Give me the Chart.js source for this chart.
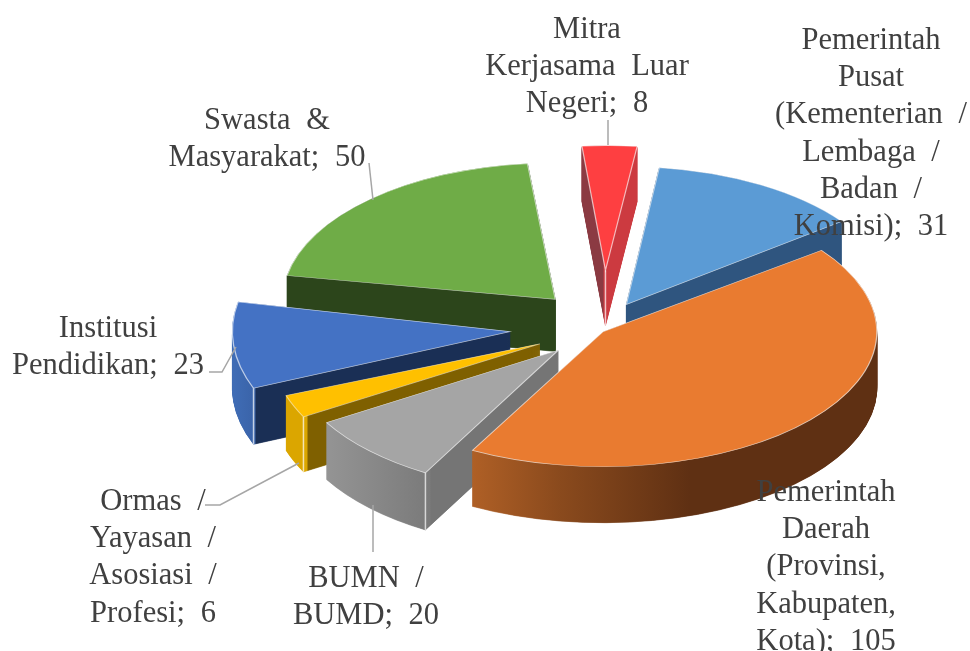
<!DOCTYPE html>
<html><head><meta charset="utf-8">
<style>html,body{margin:0;padding:0;background:#fff}canvas{display:block}</style>
<script src="https://cdn.jsdelivr.net/npm/chart.js@4"></script>
</head><body><canvas id="c" width="970" height="651"></canvas>
<script>
const categories = ["Pemerintah Pusat (Kementerian / Lembaga / Badan / Komisi)","Pemerintah Daerah (Provinsi, Kabupaten, Kota)","BUMN / BUMD","Ormas / Yayasan / Asosiasi / Profesi","Institusi Pendidikan","Swasta & Masyarakat","Mitra Kerjasama Luar Negeri"];
const values = [31,105,20,6,23,50,8];
const topColors = ["#5b9bd5","#e97b30","#a5a5a5","#ffc000","#4472c4","#6fac47","#fe3f41"];
const labelLines = [
 ["Pemerintah","Pusat","(Kementerian /","Lembaga /","Badan /","Komisi); 31"],
 ["Pemerintah","Daerah","(Provinsi,","Kabupaten,","Kota); 105"],
 ["BUMN /","BUMD; 20"],
 ["Ormas /","Yayasan /","Asosiasi /","Profesi; 6"],
 ["Institusi","Pendidikan; 23"],
 ["Swasta &","Masyarakat; 50"],
 ["Mitra","Kerjasama Luar","Negeri; 8"]
];
const labelAnchors = [[871,49],[826,501],[366,587],[153,510],[108,337],[267,129],[587,38]];
const leaders = [[[608,120],[608,145]],[[373,505],[373,552]],[[205,505],[220,505],[299,463]],[[209,372],[222,372],[236,347]],[[369,163],[373,200]]];
const explode = [52,7,55,64,88,68,105];
const sliceScaleX = [1.03,1.045,1.03,1.03,1.06,1.04,1.02];
const sliceScaleY = [0.94,0.92,0.96,1.03,1.01,0.93,0.85];
const sliceTurn = [-3,-3,-2,0,-2.5,-4,-3.2];
const depth = [50,56,57,55,56,52,55];
const borderAlpha = [0.65,0.65,0.65,0.5,0.65,0.65,0.65];
const drawOrder = [5,6,0,4,3,2,1];
const wallStops = [
 [[0,"#2f557f"],[1,"#2f557f"]],
 [[470,"#b06026"],[560,"#8a4a1d"],[690,"#5f3013"],[880,"#5f3013"]],
 [[327,"#949494"],[430,"#7a7a7a"],[431,"#757575"],[560,"#757575"]],
 [[287,"#dba600"],[307,"#dba600"],[308,"#7f6000"],[545,"#7f6000"]],
 [[234,"#3f6cb5"],[255,"#3a63a8"],[256,"#1a2f55"],[512,"#1a2f55"]],
 [[0,"#2c451b"],[1,"#2c451b"]],
 [[578,"#8b3a42"],[603,"#8b3a42"],[604,"#cc3a40"],[640,"#cc3a40"]]
];
const ridges = [null,null,"start","start","start",null,"apex"];
const CX=598, CY=329, K=0.56, R=262;

function arcOpts(bg,bc,bw){return {backgroundColor:bg,borderColor:bc,borderWidth:bw,borderAlign:"center",offset:0,spacing:0,circular:true,borderRadius:0,borderJoinStyle:"miter",borderDash:[],borderDashOffset:0};}

const pie3d = {
 id:"pie3d",
 beforeDatasetsDraw(chart){
  const ctx=chart.ctx, els=chart.getDatasetMeta(0).data;
  for(const i of drawOrder){
   const el=els[i], saved=el.options, mid=(el.startAngle+el.endAngle)/2;
   const sx=sliceScaleX[i], sy=sliceScaleY[i], turn=sliceTurn[i]*Math.PI/180;
   const ox=CX+Math.cos(mid)*explode[i], oy=CY+Math.sin(mid)*explode[i]*K;
   const place=(d)=>{ctx.translate(ox,oy+d);ctx.scale(sx,sy*K);ctx.rotate(turn);ctx.translate(-el.x,-el.y);};
   for(let d=depth[i];d>=0.5;d-=0.5){
    ctx.save();place(d);
    const st=wallStops[i], x0=st[0][0], x1=st[st.length-1][0];
    const m=ctx.getTransform().inverse();
    const ym=oy+d;
    const a=m.transformPoint({x:x0,y:ym}), b=m.transformPoint({x:x1,y:ym});
    const g=ctx.createLinearGradient(a.x,a.y,b.x,b.y);
    st.forEach(p=>g.addColorStop((p[0]-x0)/(x1-x0),p[1]));
    el.options=arcOpts(g,g,0.8);
    el.draw(ctx);
    ctx.restore();
   }
   ctx.save();place(0);
   el.options=arcOpts(saved.backgroundColor,"rgba(255,255,255,"+borderAlpha[i]+")",1.2);
   el.draw(ctx);
   ctx.restore();
   el.options=saved;
   if(ridges[i]){
    const ang=el.startAngle+turn, rr=ridges[i]==="apex"?0:R;
    const px=ox+Math.cos(ang)*rr*sx, py=oy+Math.sin(ang)*rr*sy*K;
    ctx.save();ctx.strokeStyle="rgba(255,255,255,0.7)";ctx.lineWidth=1.5;
    ctx.beginPath();ctx.moveTo(px,py);ctx.lineTo(px,py+depth[i]);ctx.stroke();ctx.restore();
   }
  }
  return false;
 },
 afterDraw(chart){
  const ctx=chart.ctx;
  ctx.save();
  ctx.strokeStyle="#a6a6a6";ctx.lineWidth=1.5;
  leaders.forEach(l=>{ctx.beginPath();l.forEach((p,j)=>j?ctx.lineTo(p[0],p[1]):ctx.moveTo(p[0],p[1]));ctx.stroke();});
  ctx.fillStyle="#404040";ctx.font='30.5px "Liberation Serif"';ctx.textAlign="center";ctx.textBaseline="alphabetic";
  ctx.wordSpacing="8px";
  labelLines.forEach((lines,i)=>{
   lines.forEach((t,j)=>ctx.fillText(t,labelAnchors[i][0],labelAnchors[i][1]+j*37.2));
  });
  ctx.restore();
 }
};

new Chart(document.getElementById("c"),{
 type:"pie",
 data:{labels:categories,datasets:[{data:values,backgroundColor:topColors,borderWidth:0,radius:R}]},
 options:{responsive:false,animation:false,rotation:10,events:[],layout:{padding:0},
  plugins:{legend:{display:false},tooltip:{enabled:false}}},
 plugins:[pie3d]
});
</script></body></html>
